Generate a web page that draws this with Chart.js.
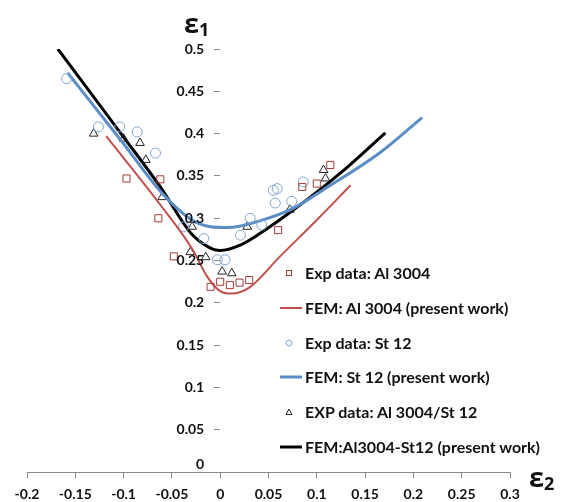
<!DOCTYPE html>
<html>
<head>
<meta charset="utf-8">
<script src="https://cdn.jsdelivr.net/npm/chart.js@4"></script>
<style>
    body { margin: 0; background: #fff; }
    #wrap { position: relative; width: 572px; height: 502px; }
    .axis-title { position: absolute; font-family: "Open Sans", sans-serif; font-weight: bold; font-size: 27px; line-height: 1; color: #111; }
    .axis-title sub { font-size: 18px; font-weight: bold; vertical-align: -3px; }
    #titleY { left: 184px; top: 9px; }
    #titleX { left: 529px; top: 463px; }
    #legend { position: absolute; left: 280px; top: 262px; font-family: Lato, sans-serif; font-weight: bold; font-size: 16px; color: #111; }
    .item { position: relative; height: 34.8px; line-height: 22px; padding-left: 25px; white-space: nowrap; }
    .mark { position: absolute; left: 0; top: 0; width: 22px; height: 22px; }
</style>
</head>
<body>
<div id="wrap">
    <canvas id="flcChart" width="572" height="502"></canvas>
    <div class="axis-title" id="titleY">ε<sub>1</sub></div>
    <div class="axis-title" id="titleX">ε<sub>2</sub></div>
    <div id="legend"></div>
</div>
<script>
// Dữ liệu
const xTicks = [-0.2, -0.15, -0.1, -0.05, 0, 0.05, 0.1, 0.15, 0.2, 0.25, 0.3];
const xTickLabels = ['-0.2', '-0.15', '-0.1', '-0.05', '0', '0.05', '0.1', '0.15', '0.2', '0.25', '0.3'];
const yTicks = [0, 0.05, 0.1, 0.15, 0.2, 0.25, 0.3, 0.35, 0.4, 0.45, 0.5];
const yTickLabels = ['0', '0.05', '0.1', '0.15', '0.2', '0.25', '0.3', '0.35', '0.4', '0.45', '0.5'];

// Exp data: Al 3004
const expAlX = [-0.097, -0.062, -0.064, -0.048, -0.010, 0.000, 0.010, 0.020, 0.030, 0.060, 0.085, 0.100, 0.114];
const expAlY = [0.347, 0.346, 0.300, 0.255, 0.219, 0.225, 0.221, 0.224, 0.227, 0.286, 0.337, 0.341, 0.363];

// FEM: Al 3004
const femAlX = [-0.118, -0.062, -0.028, -0.014, 0.000, 0.012, 0.030, 0.062, 0.100, 0.135];
const femAlY = [0.397, 0.316, 0.262, 0.232, 0.214, 0.211, 0.218, 0.255, 0.298, 0.339];

// Exp data: St 12
const expStX = [-0.159, -0.126, -0.104, -0.086, -0.067, -0.038, -0.017, -0.003, 0.005, 0.021, 0.031, 0.043, 0.055, 0.059, 0.057, 0.074, 0.086];
const expStY = [0.465, 0.408, 0.408, 0.402, 0.377, 0.290, 0.276, 0.251, 0.251, 0.280, 0.300, 0.292, 0.333, 0.335, 0.318, 0.320, 0.343];

// FEM: St 12
const femStX = [-0.158, -0.100, -0.062, -0.028, -0.010, 0.008, 0.041, 0.076, 0.110, 0.166, 0.209];
const femStY = [0.472, 0.388, 0.332, 0.297, 0.290, 0.289, 0.297, 0.312, 0.336, 0.378, 0.419];

// EXP data: Al 3004/St 12
const expMixX = [-0.131, -0.100, -0.083, -0.077, -0.060, -0.031, -0.029, -0.015, 0.002, 0.012, 0.028, 0.072, 0.107, 0.109];
const expMixY = [0.400, 0.394, 0.389, 0.369, 0.325, 0.260, 0.290, 0.254, 0.237, 0.235, 0.290, 0.310, 0.357, 0.347];

// FEM: Al3004-St12
const femMixX = [-0.168, -0.100, -0.062, -0.030, -0.012, 0.000, 0.020, 0.041, 0.076, 0.124, 0.171];
const femMixY = [0.500, 0.396, 0.337, 0.282, 0.266, 0.262, 0.268, 0.282, 0.310, 0.353, 0.401];

function toPoints(xs, ys) {
    return xs.map((x, i) => ({ x: x, y: ys[i] }));
}

function pointSet(label, xs, ys, style, color, radius) {
    return {
        label: label,
        data: toPoints(xs, ys),
        showLine: false,
        pointStyle: style,
        pointRadius: radius,
        pointBorderWidth: 1,
        pointBorderColor: color,
        pointBackgroundColor: 'rgba(0,0,0,0)',
        legendMark: style,
        legendColor: color
    };
}

function lineSet(label, xs, ys, color, width) {
    return {
        label: label,
        data: toPoints(xs, ys),
        showLine: true,
        borderColor: color,
        borderWidth: width,
        pointRadius: 0,
        cubicInterpolationMode: 'monotone',
        legendMark: 'line',
        legendColor: color
    };
}

const datasets = [
    pointSet('Exp data: Al 3004', expAlX, expAlY, 'rect', '#a33b35', 5),
    lineSet('FEM: Al 3004 (present work)', femAlX, femAlY, '#c0504d', 2),
    pointSet('Exp data: St 12', expStX, expStY, 'circle', '#7fa6d1', 5),
    lineSet('FEM: St 12 (present work)', femStX, femStY, '#5b8ec6', 3),
    pointSet('EXP data: Al 3004/St 12', expMixX, expMixY, 'triangle', '#222', 5),
    lineSet('FEM:Al3004-St12 (present work)', femMixX, femMixY, '#000', 3)
];

const tickFont = { family: 'Lato', size: 14, weight: 'bold' };

// Nhãn trục y nằm bên trái trục x = 0
const yLabelPlugin = {
    id: 'yLabels',
    afterDraw(chart) {
        const ctx = chart.ctx;
        const xPix = chart.scales.x.getPixelForValue(0);
        const yScale = chart.scales.y;
        ctx.save();
        ctx.font = 'bold 14px Lato';
        ctx.fillStyle = '#111';
        ctx.textAlign = 'right';
        ctx.textBaseline = 'middle';
        yTicks.forEach(function (v, i) {
            let yPix = yScale.getPixelForValue(v);
            if (v === 0) yPix -= 8;
            ctx.fillText(yTickLabels[i], xPix - 16, yPix);
        });
        ctx.restore();
    }
};

new Chart(document.getElementById('flcChart'), {
    type: 'scatter',
    data: { datasets: datasets },
    plugins: [yLabelPlugin],
    options: {
        responsive: false,
        animation: false,
        devicePixelRatio: 1,
        layout: { padding: { left: 27, right: 62, top: 49, bottom: -9 } },
        plugins: {
            legend: { display: false },
            tooltip: { enabled: false }
        },
        scales: {
            x: {
                type: 'linear',
                min: -0.2,
                max: 0.3,
                afterBuildTicks: (scale) => { scale.ticks = xTicks.map(v => ({ value: v })); },
                ticks: {
                    color: '#111',
                    font: tickFont,
                    padding: 8,
                    maxRotation: 0,
                    autoSkip: false,
                    callback: (v, i) => xTickLabels[i]
                },
                grid: { drawOnChartArea: false, color: '#8a8a8a', tickLength: 6 },
                border: { display: true, color: '#8a8a8a', width: 1 }
            },
            y: {
                type: 'linear',
                min: 0,
                max: 0.5,
                position: { x: 0 },
                afterBuildTicks: (scale) => { scale.ticks = yTicks.map(v => ({ value: v })); },
                ticks: { display: false },
                grid: { drawOnChartArea: false, color: '#8a8a8a', tickLength: 6 },
                border: { display: false }
            }
        }
    }
});

// Chú giải dựng bằng HTML
const legend = document.getElementById('legend');
datasets.forEach(function (ds) {
    const item = document.createElement('div');
    item.className = 'item';
    const mark = document.createElement('canvas');
    mark.className = 'mark';
    mark.width = 22;
    mark.height = 22;
    const c = mark.getContext('2d');
    c.strokeStyle = ds.legendColor;
    if (ds.legendMark === 'line') {
        c.lineWidth = ds.borderWidth;
        c.beginPath(); c.moveTo(0, 11); c.lineTo(22, 11); c.stroke();
    } else if (ds.legendMark === 'rect') {
        c.lineWidth = 1;
        c.strokeRect(6.5, 8.5, 5, 5);
    } else if (ds.legendMark === 'circle') {
        c.lineWidth = 1;
        c.beginPath(); c.arc(9, 11, 3, 0, Math.PI * 2); c.stroke();
    } else {
        c.lineWidth = 1;
        c.beginPath(); c.moveTo(9, 8); c.lineTo(12, 13.5); c.lineTo(6, 13.5); c.closePath(); c.stroke();
    }
    item.appendChild(mark);
    item.appendChild(document.createTextNode(ds.label));
    legend.appendChild(item);
});
</script>
</body>
</html>
